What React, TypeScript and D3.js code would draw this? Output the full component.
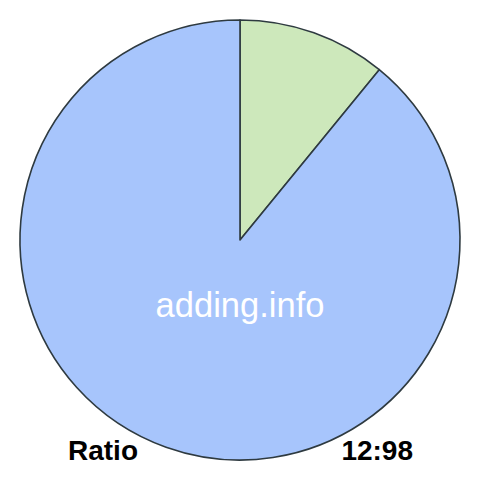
import React from "react";
import * as d3 from "d3";

const labels = ["12", "98"];
const values = [12, 98];
const colors = ["#cde8bb", "#a7c5fc"];
const captionLeft = "Ratio";
const captionRight = "12:98";
const watermark = "adding.info";

export default function App() {
  const W = 480, H = 480;
  const cx = 240, cy = 240, r = 220;
  const pie = d3.pie<number>().sort(null).value((d) => d)(values);
  const arc = d3.arc<d3.PieArcDatum<number>>().innerRadius(0).outerRadius(r);
  return (
    <svg width={W} height={H} style={{ position: "absolute", left: 0, top: 0 }}>
      <rect width={W} height={H} fill="#fff" />
      <g transform={`translate(${cx},${cy})`}>
        {pie.map((p, i) => (
          <path key={labels[i]} d={arc(p) || ""} fill={colors[i]} stroke="#2e3a40" strokeWidth={1.6} strokeLinejoin="round" />
        ))}
      </g>
      <text x={cx} y={317} textAnchor="middle" fill="#fff" fontFamily="Liberation Sans, Arial, sans-serif" fontSize={34.5}>{watermark}</text>
      <text x={68} y={460} fill="#000" fontWeight="bold" fontFamily="Liberation Sans, Arial, sans-serif" fontSize={28}>{captionLeft}</text>
      <text x={413} y={460} textAnchor="end" fill="#000" fontWeight="bold" fontFamily="Liberation Sans, Arial, sans-serif" fontSize={28}>{captionRight}</text>
    </svg>
  );
}
